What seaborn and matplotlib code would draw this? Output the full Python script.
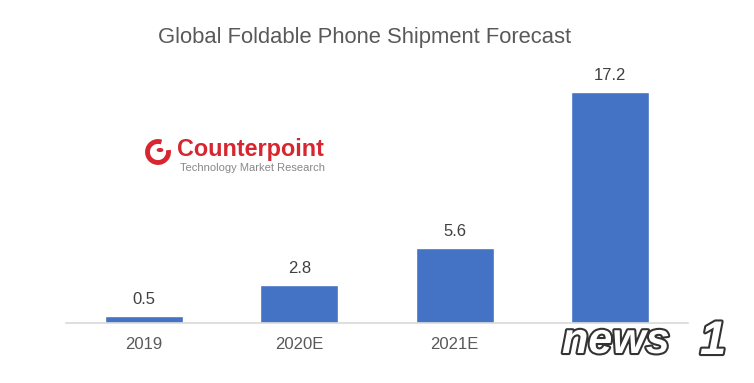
import matplotlib.pyplot as plt
import matplotlib.patheffects as pe
from matplotlib.patches import Arc, Circle
import seaborn as sns
import pandas as pd

# Chart data
years = ['2019', '2020E', '2021E', '2022E']
shipments = [0.5, 2.8, 5.6, 17.2]
title = 'Global Foldable Phone Shipment Forecast'

df = pd.DataFrame({'year': years, 'shipments': shipments})

sns.set_style('white')
plt.rcParams['font.family'] = ['Liberation Sans', 'DejaVu Sans']

fig = plt.figure(figsize=(7.54, 3.83), dpi=100)
ax = fig.add_axes([0.0875, 0.1567, 0.825, 0.70])

sns.barplot(data=df, x='year', y='shipments', color='#4472C4', width=0.5,
            saturation=1, ax=ax)

ax.set_xlim(-0.5, 3.5)
ax.set_ylim(0, 20)
ax.set_xlabel('')
ax.set_ylabel('')
ax.set_yticks([])

# value labels
for i, v in enumerate(shipments):
    ax.text(i, v + 0.7, f'{v}', ha='center', va='bottom', fontsize=12, color='#404040')

for s in ['top', 'right', 'left']:
    ax.spines[s].set_visible(False)
ax.spines['bottom'].set_color('#d9d9d9')
ax.spines['bottom'].set_linewidth(1.2)

# category boundary ticks
ax.set_xticks([-0.5, 0.5, 1.5, 2.5, 3.5], minor=True)
ax.tick_params(axis='x', which='minor', length=5, color='#d9d9d9', width=1.2, direction='out')
ax.tick_params(axis='x', which='major', length=0, labelsize=12, labelcolor='#595959', pad=10)
# last year label is hidden under the news1 watermark in the source image
ax.set_xticks(range(len(years)))
ax.set_xticklabels(years[:-1] + [''])

fig.text(365 / 754, 0.903, title, ha='center', va='center', fontsize=15.8, color='#595959')

# Counterpoint logo
red = '#d7262f'
fig.patches.append(Arc((158 / 754, 1 - 152 / 383), 21 / 754, 21 / 383, theta1=80, theta2=380,
                       transform=fig.transFigure, color=red, lw=3.5))
fig.patches.append(Circle((160 / 754, 1 - 150 / 383), 0.0035, transform=fig.transFigure, color=red))
fig.text(177 / 754, 1 - 150 / 383, 'Counterpoint', ha='left', va='center', fontsize=16.8,
         fontweight='bold', color=red)
fig.text(180 / 754, 1 - 168 / 383, 'Technology Market Research', ha='left', va='center',
         fontsize=8, color='#888888')

# watermark
fig.text(562 / 754, 1 - 342 / 383, 'news', ha='left', va='center', fontsize=31, style='italic',
         fontweight='bold', color='white',
         path_effects=[pe.withStroke(linewidth=3, foreground='#333333')])
fig.text(700 / 754, 1 - 342 / 383, '1', ha='left', va='center', fontsize=34, style='italic',
         fontweight='bold', color='white',
         path_effects=[pe.withStroke(linewidth=3, foreground='#333333')])

fig.savefig('out.png', dpi=100)
